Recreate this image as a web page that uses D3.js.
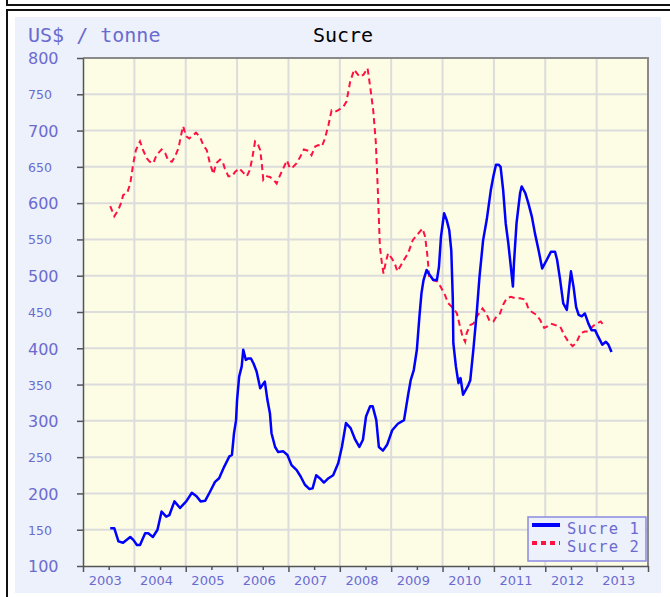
<!DOCTYPE html>
<html>
<head>
<meta charset="utf-8">
<script src="https://cdn.jsdelivr.net/npm/d3@7"></script>
<style>
  html, body { margin: 0; padding: 0; background: #fff; }
  svg { display: block; }
</style>
</head>
<body>
<svg id="chart"></svg>
<script>
// values (decimal year, US$ / tonne)
const sucre1Dates = [
  2003.53, 2003.61, 2003.69, 2003.78, 2003.92, 2003.98, 2004.05, 2004.11, 2004.21, 2004.27,
  2004.36, 2004.45, 2004.53, 2004.62, 2004.68, 2004.78, 2004.89, 2005.01, 2005.12, 2005.21,
  2005.29, 2005.38, 2005.47, 2005.57, 2005.65, 2005.75, 2005.85, 2005.90, 2005.94, 2005.98,
  2006.00, 2006.04, 2006.09, 2006.12, 2006.17, 2006.22, 2006.27, 2006.32, 2006.38, 2006.45,
  2006.50, 2006.54, 2006.59, 2006.64, 2006.67, 2006.74, 2006.80, 2006.90, 2006.98, 2007.06,
  2007.16, 2007.24, 2007.32, 2007.41, 2007.47, 2007.54, 2007.61, 2007.69, 2007.78, 2007.87,
  2007.97, 2008.04, 2008.12, 2008.21, 2008.30, 2008.38, 2008.45, 2008.51, 2008.59, 2008.64,
  2008.71, 2008.76, 2008.84, 2008.92, 2009.02, 2009.13, 2009.25, 2009.33, 2009.38, 2009.44,
  2009.50, 2009.55, 2009.59, 2009.63, 2009.69, 2009.74, 2009.82, 2009.89, 2009.93, 2009.97,
  2010.03, 2010.08, 2010.13, 2010.17, 2010.20, 2010.21, 2010.26, 2010.31, 2010.35, 2010.40,
  2010.50, 2010.54, 2010.60, 2010.67, 2010.72, 2010.79, 2010.86, 2010.94, 2010.99, 2011.04,
  2011.09, 2011.13, 2011.18, 2011.23, 2011.28, 2011.33, 2011.37, 2011.39, 2011.44, 2011.51,
  2011.54, 2011.61, 2011.67, 2011.74, 2011.80, 2011.87, 2011.94, 2012.03, 2012.11, 2012.19,
  2012.23, 2012.29, 2012.35, 2012.42, 2012.46, 2012.50, 2012.55, 2012.60, 2012.65, 2012.71,
  2012.77, 2012.84, 2012.90, 2012.97, 2013.03, 2013.11, 2013.18, 2013.23, 2013.29
];
const sucre1Values = [
  152, 152, 134, 132, 140, 136, 129, 129, 145, 145,
  140, 150, 175, 168, 170, 189, 180, 189, 201, 196,
  189, 190, 202, 216, 221, 237, 251, 253, 283, 301,
  329, 361, 375, 398, 384, 386, 386, 379, 368, 345,
  350, 354, 329, 310, 283, 264, 257, 258, 253, 239,
  232, 223, 212, 206, 207, 225, 221, 215, 221, 225,
  242, 264, 297, 290, 274, 264, 274, 306, 320, 320,
  301, 264, 259, 267, 287, 296, 301, 336, 356, 370,
  398, 444, 476, 494, 508, 502, 494, 494, 512, 554,
  586, 577, 563, 535, 467, 407, 375, 352, 359, 336,
  349, 356, 398, 453, 499, 549, 577, 618, 637, 653,
  653, 650, 618, 572, 545, 512, 485, 517, 572, 614,
  623, 614, 600, 581, 558, 535, 510, 522, 533, 533,
  522, 494, 462, 453, 480, 506, 485, 457, 446, 444,
  448, 434, 425, 425, 416, 405, 409, 405, 395
];
const sucre2Dates = [
  2003.53, 2003.61, 2003.69, 2003.75, 2003.78, 2003.86, 2003.92, 2003.98, 2004.03, 2004.11,
  2004.17, 2004.24, 2004.30, 2004.37, 2004.43, 2004.53, 2004.60, 2004.66, 2004.73, 2004.79,
  2004.86, 2004.91, 2004.95, 2005.01, 2005.07, 2005.15, 2005.20, 2005.28, 2005.34, 2005.41,
  2005.47, 2005.54, 2005.59, 2005.67, 2005.72, 2005.76, 2005.83, 2005.90, 2005.96, 2006.04,
  2006.12, 2006.19, 2006.25, 2006.30, 2006.35, 2006.40, 2006.45, 2006.48, 2006.51, 2006.58,
  2006.64, 2006.71, 2006.77, 2006.84, 2006.90, 2006.97, 2007.03, 2007.09, 2007.16, 2007.23,
  2007.30, 2007.39, 2007.45, 2007.52, 2007.58, 2007.65, 2007.71, 2007.78, 2007.84, 2007.91,
  2007.97, 2008.07, 2008.13, 2008.20, 2008.28, 2008.33, 2008.39, 2008.46, 2008.54, 2008.59,
  2008.65, 2008.70, 2008.74, 2008.78, 2008.82, 2008.85, 2008.89, 2008.94, 2009.01, 2009.07,
  2009.12, 2009.17, 2009.25, 2009.33, 2009.42, 2009.50, 2009.61, 2009.66, 2009.70, 2009.74,
  2009.82, 2009.90, 2009.96, 2010.05, 2010.11, 2010.21, 2010.28, 2010.34, 2010.39, 2010.44,
  2010.47, 2010.54, 2010.60, 2010.67, 2010.73, 2010.78, 2010.85, 2010.92, 2010.99, 2011.05,
  2011.12, 2011.18, 2011.25, 2011.33, 2011.41, 2011.51, 2011.61, 2011.67, 2011.74, 2011.83,
  2011.90, 2011.98, 2012.04, 2012.11, 2012.19, 2012.29, 2012.37, 2012.45, 2012.53, 2012.60,
  2012.69, 2012.77, 2012.84, 2012.92, 2013.00, 2013.08, 2013.13
];
const sucre2Values = [
  596, 582, 591, 602, 611, 614, 627, 655, 673, 685,
  673, 662, 657, 655, 666, 674, 669, 659, 657, 664,
  676, 694, 706, 692, 689, 694, 697, 691, 680, 673,
  655, 640, 655, 660, 657, 648, 637, 637, 643, 648,
  642, 637, 646, 664, 685, 682, 673, 655, 632, 637,
  636, 632, 627, 639, 648, 659, 648, 650, 655, 664,
  674, 672, 666, 678, 680, 678, 689, 708, 728, 726,
  728, 733, 740, 767, 784, 779, 774, 777, 786, 761,
  728, 685, 618, 540, 517, 503, 517, 531, 524, 517,
  506, 512, 522, 531, 549, 556, 565, 554, 531, 499,
  494, 492, 485, 473, 462, 455, 448, 430, 416, 409,
  421, 432, 434, 444, 450, 455, 448, 437, 437, 444,
  448, 460, 469, 471, 469, 469, 467, 455, 450, 446,
  439, 428, 430, 434, 432, 430, 418, 409, 403, 407,
  421, 423, 423, 430, 434, 437, 432
];
const yearTicks = [2003, 2004, 2005, 2006, 2007, 2008, 2009, 2010, 2011, 2012, 2013, 2014];
const yearLabels = ["2003", "2004", "2005", "2006", "2007", "2008", "2009", "2010", "2011", "2012", "2013"];
const valueTicks = [100, 150, 200, 250, 300, 350, 400, 450, 500, 550, 600, 650, 700, 750, 800];
const seriesNames = ["Sucre 1", "Sucre 2"];

const width = 670, height = 597;
const plot = { left: 83, right: 648, top: 58, bottom: 566 };
const labelColor = "#6b6bcf";
const mono = "'DejaVu Sans Mono', 'Liberation Mono', monospace";

const svg = d3.select("#chart")
    .attr("width", width)
    .attr("height", height)
    .attr("viewBox", [0, 0, width, height]);

// frames
svg.append("path")
    .attr("d", `M7,0 V5 H${width}`)
    .attr("fill", "none").attr("stroke", "#111").attr("stroke-width", 2);
svg.append("path")
    .attr("d", `M7,${height} V10 H${width}`)
    .attr("fill", "none").attr("stroke", "#111").attr("stroke-width", 2);
svg.append("rect")
    .attr("x", 15).attr("y", 17).attr("width", 646).attr("height", 576)
    .attr("fill", "#edf1fb");

const x = d3.scaleLinear().domain([2003, 2014]).range([plot.left, plot.right]);
const y = d3.scaleLinear().domain([100, 800]).range([plot.bottom, plot.top]);

svg.append("rect")
    .attr("x", plot.left).attr("y", plot.top)
    .attr("width", plot.right - plot.left).attr("height", plot.bottom - plot.top)
    .attr("fill", "#fdfde6");

// grid
const grid = svg.append("g").attr("stroke", "#dcdcdc").attr("stroke-width", 2);
grid.selectAll(".gy")
    .data(valueTicks.slice(1, -1))
    .join("line")
    .attr("x1", plot.left).attr("x2", plot.right)
    .attr("y1", d => y(d)).attr("y2", d => y(d));
grid.selectAll(".gx")
    .data(yearTicks.slice(1, -1))
    .join("line")
    .attr("x1", d => x(d)).attr("x2", d => x(d))
    .attr("y1", plot.top).attr("y2", plot.bottom);

// top / right border
svg.append("path")
    .attr("d", `M${plot.left},${plot.top} H${plot.right} V${plot.bottom}`)
    .attr("fill", "none").attr("stroke", "#8a8a8a").attr("stroke-width", 2);

// y axis
const yAxis = svg.append("g")
    .attr("transform", `translate(${plot.left},0)`)
    .call(d3.axisLeft(y).tickValues(valueTicks).tickSize(6).tickSizeOuter(0));
yAxis.select(".domain").attr("stroke", "#555").attr("stroke-width", 1.5);
yAxis.selectAll(".tick line").attr("stroke", "#555").attr("stroke-width", 1.5);
yAxis.selectAll(".tick text")
    .attr("x", 28 - plot.left)
    .attr("text-anchor", "start")
    .attr("dy", "0.36em")
    .attr("fill", labelColor)
    .style("font-family", "'DejaVu Sans', sans-serif")
    .style("font-size", d => d % 100 === 0 ? "16px" : "12.5px");

// x axis: year ticks + half-year minor ticks
const xAxis = svg.append("g")
    .attr("transform", `translate(0,${plot.bottom})`)
    .call(d3.axisBottom(x).tickValues(yearTicks).tickSize(6).tickSizeOuter(0).tickFormat(""));
xAxis.select(".domain").attr("stroke", "#555").attr("stroke-width", 1.5);
xAxis.selectAll(".tick line").attr("stroke", "#555").attr("stroke-width", 1.5);

const xLabels = svg.append("g")
    .attr("transform", `translate(0,${plot.bottom})`)
    .call(d3.axisBottom(x)
        .tickValues(yearLabels.map(d => +d + 0.5))
        .tickSize(4)
        .tickFormat(d => yearLabels[Math.floor(d) - 2003]));
xLabels.select(".domain").remove();
xLabels.selectAll(".tick line").attr("stroke", "#555").attr("stroke-width", 1.5);
xLabels.selectAll(".tick text")
    .attr("x", -4)
    .attr("y", 10)
    .attr("fill", labelColor)
    .style("font-family", "'DejaVu Sans', sans-serif")
    .style("font-size", "13px");

// series
const line = d3.line()
    .x(d => x(d[0]))
    .y(d => y(d[1]));

const series1 = sucre1Dates.map((d, i) => [d, sucre1Values[i]]);
const series2 = sucre2Dates.map((d, i) => [d, sucre2Values[i]]);

svg.append("path")
    .datum(series2)
    .attr("d", line)
    .attr("fill", "none")
    .attr("stroke", "#ff1040")
    .attr("stroke-width", 2)
    .attr("stroke-dasharray", "6 4");

svg.append("path")
    .datum(series1)
    .attr("d", line)
    .attr("fill", "none")
    .attr("stroke", "#0000ff")
    .attr("stroke-width", 2.5)
    .attr("stroke-linejoin", "round");

// titles
svg.append("text")
    .attr("x", 28).attr("y", 42)
    .text("US$ / tonne")
    .style("font-family", mono).style("font-size", "20px")
    .attr("fill", labelColor);
svg.append("text")
    .attr("x", 343).attr("y", 42)
    .attr("text-anchor", "middle")
    .text("Sucre")
    .style("font-family", mono).style("font-size", "20px")
    .attr("fill", "#000");

// legend
const legend = svg.append("g").attr("transform", "translate(528,517)");
legend.append("rect")
    .attr("width", 118).attr("height", 44)
    .attr("fill", "#edf1fb").attr("stroke", "#8a8ae0").attr("stroke-width", 1.5);
const rows = legend.selectAll("g.row")
    .data(seriesNames)
    .join("g")
    .attr("transform", (d, i) => `translate(0,${8 + i * 18})`);
rows.append("line")
    .attr("x1", 4).attr("x2", 32)
    .attr("stroke", (d, i) => i === 0 ? "#0000ff" : "#ff1040")
    .attr("stroke-width", 4)
    .attr("stroke-dasharray", (d, i) => i === 0 ? null : "5 4");
rows.append("text")
    .attr("x", 39).attr("y", 9)
    .text(d => d)
    .attr("fill", labelColor)
    .style("font-family", mono).style("font-size", "15.5px")
    .style("letter-spacing", "1.1px");
</script>
</body>
</html>
